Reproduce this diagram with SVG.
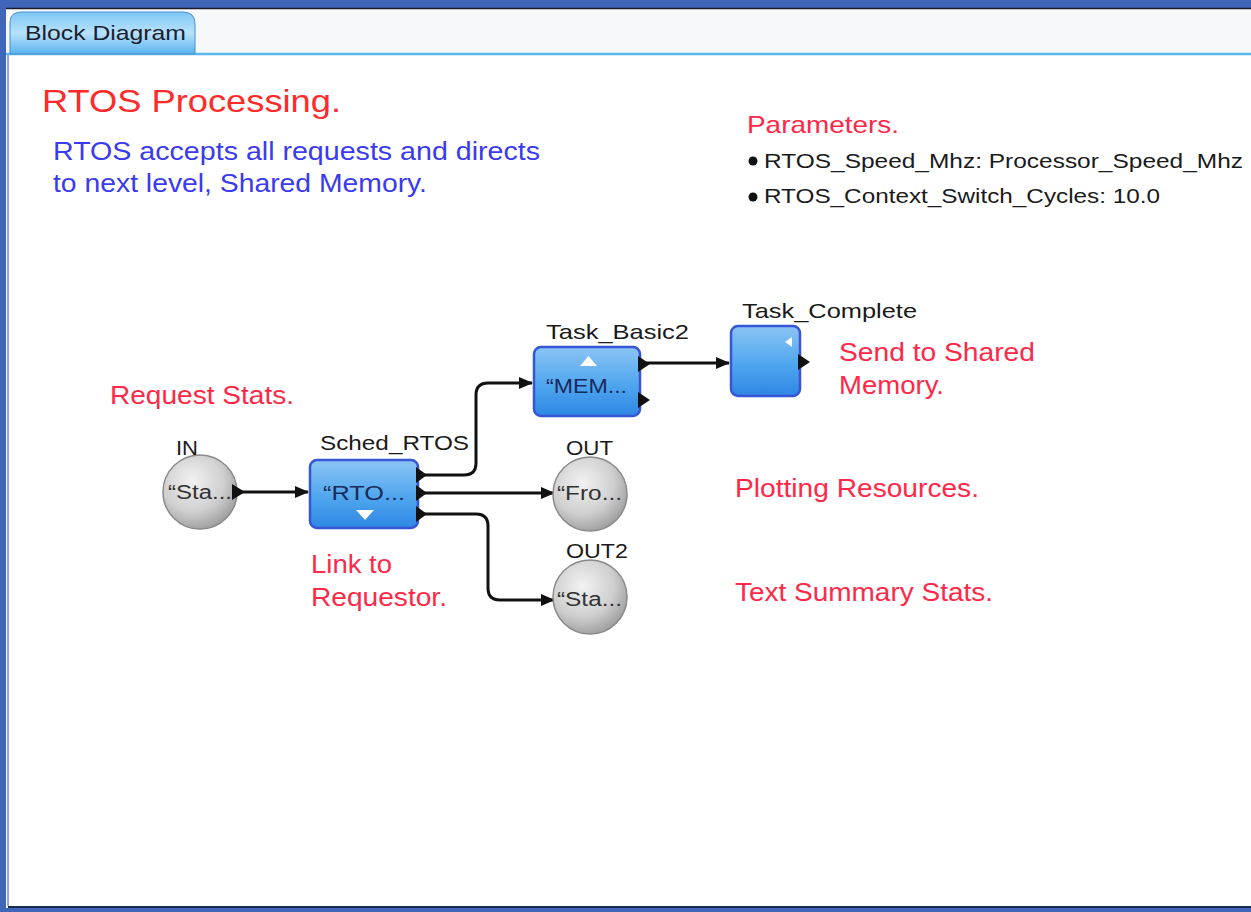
<svg xmlns="http://www.w3.org/2000/svg" width="1251" height="912" viewBox="0 0 1251 912">
<defs>
<style>
text{font-family:"Liberation Sans",Arial,sans-serif}
.lbl{font-size:21px;fill:#1a1a1a}
.red{font-size:25px;fill:#ff2848}
.blue{font-size:25px;fill:#3a3aee}
.inner{font-size:20px;fill:#1a2a5a}
.grey{font-size:20px;fill:#333}
.par{font-size:21px;fill:#1a1a1a}
.wire{fill:none;stroke:#111;stroke-width:3}
.box{fill:url(#bg);stroke:#3656d6;stroke-width:2.5}
.orb{fill:url(#cg);stroke:#8a8a8a;stroke-width:1.5}
</style>
<linearGradient id="bg" x1="0" y1="0" x2="0" y2="1">
<stop offset="0" stop-color="#8cc4f4"/>
<stop offset="0.55" stop-color="#4fa6ee"/>
<stop offset="1" stop-color="#2f86e4"/>
</linearGradient>
<radialGradient id="cg" cx="0.4" cy="0.35" r="0.7">
<stop offset="0" stop-color="#f2f2f2"/>
<stop offset="0.6" stop-color="#cfcfcf"/>
<stop offset="1" stop-color="#9a9a9a"/>
</radialGradient>
<linearGradient id="tab" x1="0" y1="0" x2="0" y2="1">
<stop offset="0" stop-color="#7cc6f4"/>
<stop offset="0.5" stop-color="#b8e2fa"/>
<stop offset="1" stop-color="#5ab4ee"/>
</linearGradient>
<marker id="ah" markerWidth="14" markerHeight="12" refX="13" refY="6" orient="auto" markerUnits="userSpaceOnUse">
<path d="M0,0 L14,6 L0,12 Z" fill="#111"/>
</marker>
</defs>
<rect width="1251" height="912" fill="#3f66b8"/>
<rect x="6" y="8" width="1245" height="900" fill="#ffffff"/>
<line x1="6" y1="8.5" x2="1251" y2="8.5" stroke="#1a1a2a" stroke-width="1.5"/>
<rect x="6" y="10" width="1245" height="43" fill="#f6f8fa"/>
<line x1="6" y1="54" x2="1251" y2="54" stroke="#5ab8f0" stroke-width="2.5"/>
<line x1="8" y1="55" x2="8" y2="906" stroke="#8aa8d8" stroke-width="2"/>
<line x1="8" y1="907" x2="1251" y2="907" stroke="#1a2a4a" stroke-width="2"/>
<path d="M10,54 L10,22 Q10,12 22,12 L183,12 Q195,12 195,24 L195,54 Z" fill="url(#tab)" stroke="#4a90d0" stroke-width="1"/>
<text x="25" y="40" font-size="21" fill="#1a2030" textLength="161" lengthAdjust="spacingAndGlyphs">Block Diagram</text>

<text x="42" y="112" font-size="32" fill="#ff2a2a" textLength="299" lengthAdjust="spacingAndGlyphs">RTOS Processing.</text>
<text class="blue" x="53" y="160" textLength="487" lengthAdjust="spacingAndGlyphs">RTOS accepts all requests and directs</text>
<text class="blue" x="53" y="192" textLength="374" lengthAdjust="spacingAndGlyphs">to next level, Shared Memory.</text>

<text x="747" y="133" font-size="24" fill="#ff2848" textLength="152" lengthAdjust="spacingAndGlyphs">Parameters.</text>
<circle cx="753" cy="161" r="4.5" fill="#111"/>
<circle cx="753" cy="197" r="4.5" fill="#111"/>
<text class="par" x="764" y="168" textLength="479" lengthAdjust="spacingAndGlyphs">RTOS_Speed_Mhz: Processor_Speed_Mhz</text>
<text class="par" x="764" y="203" textLength="396" lengthAdjust="spacingAndGlyphs">RTOS_Context_Switch_Cycles: 10.0</text>

<text class="red" x="110" y="404" textLength="184" lengthAdjust="spacingAndGlyphs">Request Stats.</text>
<text class="red" x="311" y="573" textLength="81" lengthAdjust="spacingAndGlyphs">Link to</text>
<text class="red" x="311" y="606" textLength="136" lengthAdjust="spacingAndGlyphs">Requestor.</text>
<text class="red" x="839" y="361" textLength="196" lengthAdjust="spacingAndGlyphs">Send to Shared</text>
<text class="red" x="839" y="394" textLength="105" lengthAdjust="spacingAndGlyphs">Memory.</text>
<text class="red" x="735" y="497" textLength="244" lengthAdjust="spacingAndGlyphs">Plotting Resources.</text>
<text class="red" x="735" y="601" textLength="258" lengthAdjust="spacingAndGlyphs">Text Summary Stats.</text>

<g id="connectors">
<path class="wire" d="M238,492 L308,492" marker-end="url(#ah)"/>
<path class="wire" d="M420,475 L464,475 Q476,475 476,463 L476,395 Q476,383 488,383 L532,383" marker-end="url(#ah)"/>
<path class="wire" d="M420,493 L554,493" marker-end="url(#ah)"/>
<path class="wire" d="M420,514 L476,514 Q488,514 488,526 L488,588 Q488,600 500,600 L554,600" marker-end="url(#ah)"/>
<path class="wire" d="M642,363 L729,363" marker-end="url(#ah)"/>
</g>

<g id="node-in">
<circle class="orb" cx="200" cy="492" r="37"/>
<text class="lbl" x="176" y="455" textLength="22" lengthAdjust="spacingAndGlyphs">IN</text>
<text class="grey" x="168" y="499" textLength="64" lengthAdjust="spacingAndGlyphs">“Sta...</text>
<path d="M232,484 L245,492 L232,500 Z" fill="#111"/>
</g>

<g id="node-sched">
<rect class="box" x="310" y="460" width="108" height="68" rx="7"/>
<text class="lbl" x="320" y="450" textLength="149" lengthAdjust="spacingAndGlyphs">Sched_RTOS</text>
<text class="inner" x="323" y="500" textLength="82" lengthAdjust="spacingAndGlyphs">“RTO...</text>
<path d="M356,510 L374,510 L365,520 Z" fill="#ffffff"/>
<path d="M416,467 L427,475 L416,483 Z" fill="#111"/>
<path d="M416,485 L427,493 L416,501 Z" fill="#111"/>
<path d="M416,506 L427,514 L416,522 Z" fill="#111"/>
</g>

<g id="node-task-basic2">
<rect class="box" x="534" y="347" width="106" height="69" rx="7"/>
<text class="lbl" x="546" y="339" textLength="143" lengthAdjust="spacingAndGlyphs">Task_Basic2</text>
<text class="inner" x="546" y="393" textLength="81" lengthAdjust="spacingAndGlyphs">“MEM...</text>
<path d="M580,366 L597,366 L588.5,356 Z" fill="#ffffff"/>
<path d="M638,356 L650,364 L638,372 Z" fill="#111"/>
<path d="M638,392 L650,400 L638,408 Z" fill="#111"/>
</g>

<g id="node-task-complete">
<rect class="box" x="731" y="326" width="69" height="70" rx="7"/>
<text class="lbl" x="742" y="318" textLength="175" lengthAdjust="spacingAndGlyphs">Task_Complete</text>
<path d="M792,337 L792,347 L785,342 Z" fill="#ffffff"/>
<path d="M798,354 L810,362 L798,370 Z" fill="#111"/>
</g>

<g id="node-out">
<circle class="orb" cx="590" cy="494" r="37"/>
<text class="lbl" x="566" y="455" textLength="47" lengthAdjust="spacingAndGlyphs">OUT</text>
<text class="grey" x="557" y="500" textLength="65" lengthAdjust="spacingAndGlyphs">“Fro...</text>
</g>

<g id="node-out2">
<circle class="orb" cx="590" cy="597" r="37"/>
<text class="lbl" x="566" y="558" textLength="62" lengthAdjust="spacingAndGlyphs">OUT2</text>
<text class="grey" x="557" y="606" textLength="65" lengthAdjust="spacingAndGlyphs">“Sta...</text>
</g>
</svg>
